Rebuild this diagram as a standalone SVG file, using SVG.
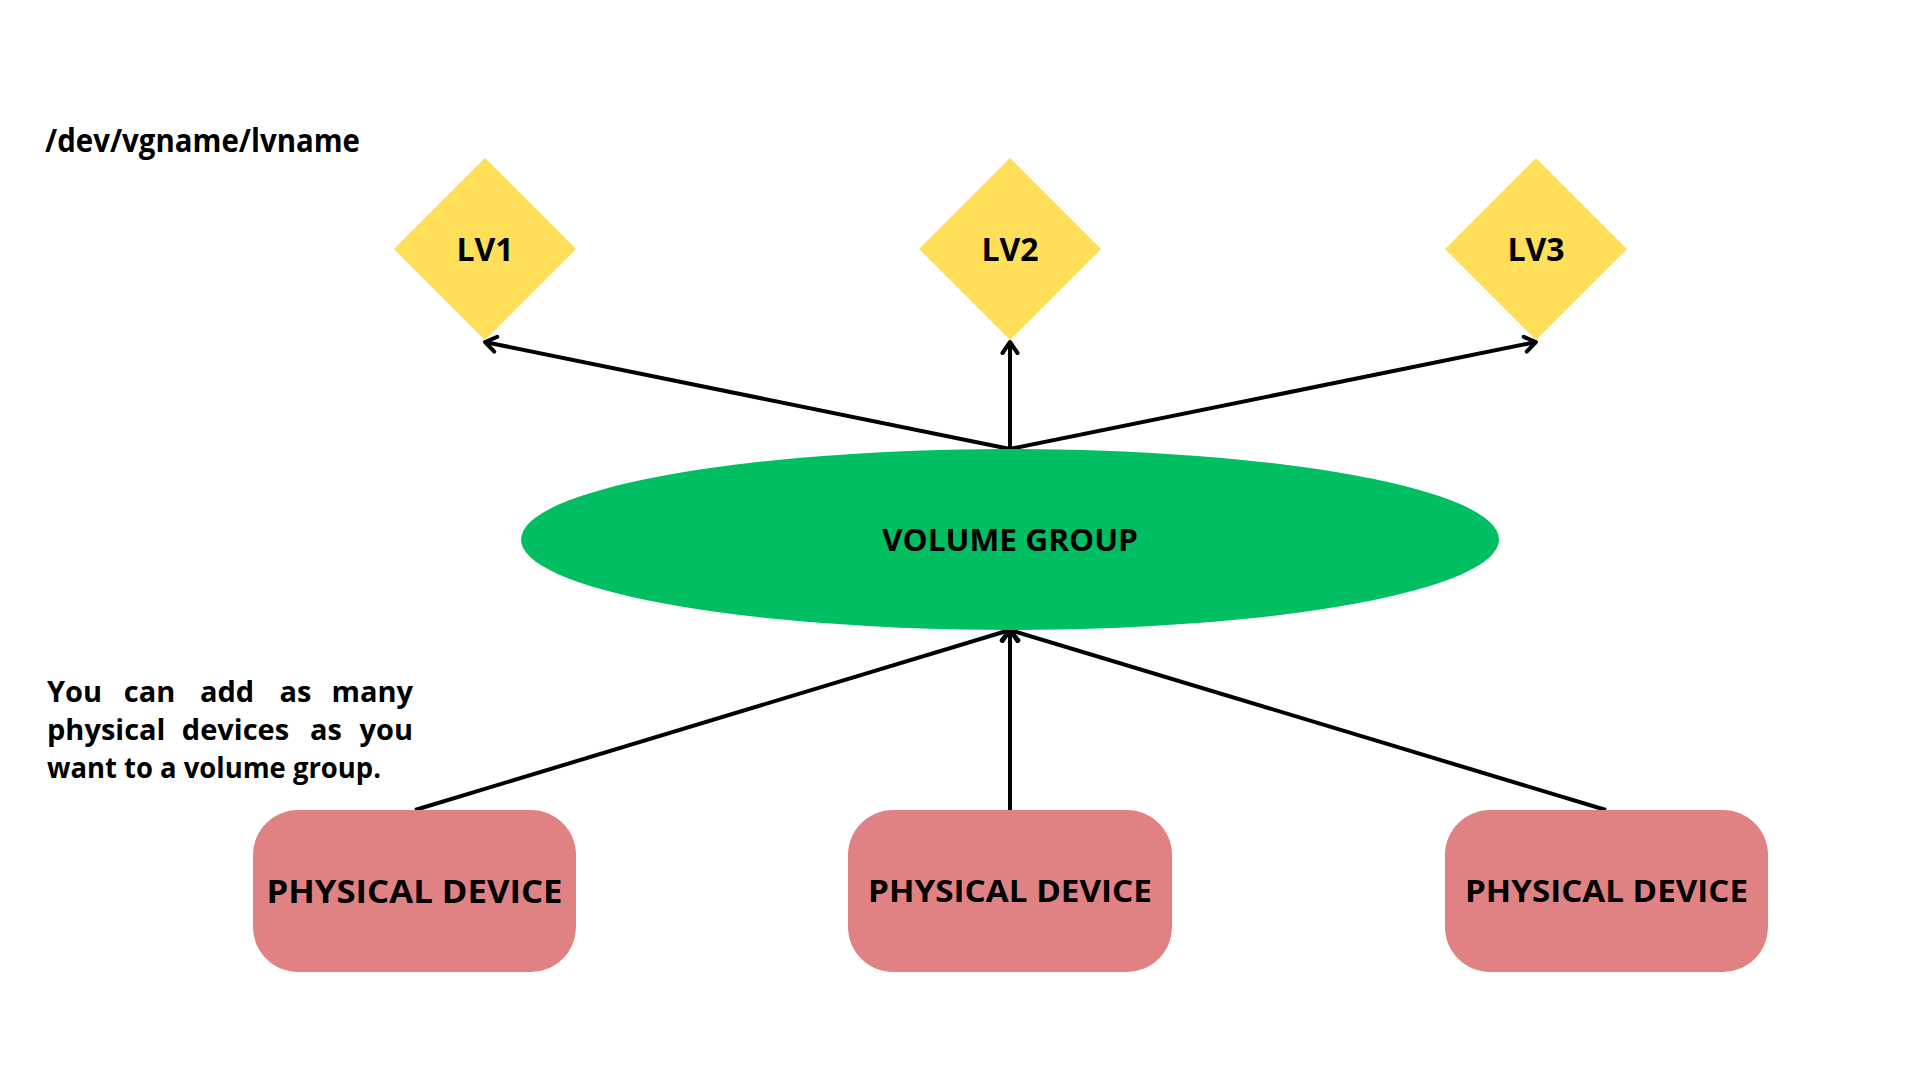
<svg xmlns="http://www.w3.org/2000/svg" width="1920" height="1080" viewBox="0 0 1920 1080">
<defs>
<marker id="arr" viewBox="-14 -10 18 20" markerWidth="18" markerHeight="20" refX="0" refY="0" orient="auto" markerUnits="userSpaceOnUse">
<path d="M-11,-7.5 L0,0 L-11,7.5" fill="none" stroke="#000" stroke-width="4" stroke-linecap="round" stroke-linejoin="round"/>
</marker>
<style>
.t{font-family:"Open Sans","Liberation Sans",sans-serif;font-weight:700;fill:#000}
.lv{fill:#FFDE59}
.pd{fill:#E08283}
.c{stroke:#000;stroke-width:4;fill:none}
</style>
</defs>
<rect width="1920" height="1080" fill="#fff"/>
<text class="t" x="45" y="152" font-size="32" textLength="315" lengthAdjust="spacingAndGlyphs">/dev/vgname/lvname</text>
<g id="paragraph" class="t" font-size="29">
<text x="47" y="702">You</text>
<text x="149.5" y="702" text-anchor="middle">can</text>
<text x="227" y="702" text-anchor="middle">add</text>
<text x="295.5" y="702" text-anchor="middle">as</text>
<text x="413" y="702" text-anchor="end">many</text>
<text x="47" y="740">physical</text>
<text x="235.5" y="740" text-anchor="middle">devices</text>
<text x="326" y="740" text-anchor="middle">as</text>
<text x="413" y="740" text-anchor="end">you</text>
<text x="47" y="778" textLength="334" lengthAdjust="spacingAndGlyphs">want to a volume group.</text>
</g>
<g id="connectors">
<line class="c" x1="1010" y1="449" x2="485" y2="342" marker-end="url(#arr)"/>
<line class="c" x1="1010" y1="449" x2="1010" y2="342" marker-end="url(#arr)"/>
<line class="c" x1="1010" y1="449" x2="1536" y2="342" marker-end="url(#arr)"/>
<line class="c" x1="415" y1="810" x2="1010" y2="630" marker-end="url(#arr)"/>
<line class="c" x1="1010" y1="810" x2="1010" y2="630" marker-end="url(#arr)"/>
<line class="c" x1="1606" y1="810" x2="1010" y2="630" marker-end="url(#arr)"/>
</g>
<g id="lv1">
<polygon class="lv" points="485,158 576,249 485,340 394,249"/>
<text class="t" x="485" y="261" font-size="32" text-anchor="middle">LV1</text>
</g>
<g id="lv2">
<polygon class="lv" points="1010,158 1101,249 1010,340 919,249"/>
<text class="t" x="1010" y="261" font-size="32" text-anchor="middle">LV2</text>
</g>
<g id="lv3">
<polygon class="lv" points="1536,158 1627,249 1536,340 1445,249"/>
<text class="t" x="1536" y="261" font-size="32" text-anchor="middle">LV3</text>
</g>
<g id="vg">
<ellipse cx="1010" cy="539.5" rx="489" ry="90.5" fill="#00BF63"/>
<text class="t" x="1010" y="551" font-size="31" text-anchor="middle" textLength="256" lengthAdjust="spacingAndGlyphs">VOLUME GROUP</text>
</g>
<g id="pd1">
<rect class="pd" x="253" y="810" width="323" height="162" rx="45"/>
<text class="t" x="414.5" y="903" font-size="32" text-anchor="middle" textLength="296" lengthAdjust="spacingAndGlyphs">PHYSICAL DEVICE</text>
</g>
<g id="pd2">
<rect class="pd" x="848" y="810" width="324" height="162" rx="45"/>
<text class="t" x="1010" y="902" font-size="31" text-anchor="middle" textLength="284" lengthAdjust="spacingAndGlyphs">PHYSICAL DEVICE</text>
</g>
<g id="pd3">
<rect class="pd" x="1445" y="810" width="323" height="162" rx="45"/>
<text class="t" x="1606.5" y="902" font-size="31" text-anchor="middle" textLength="283" lengthAdjust="spacingAndGlyphs">PHYSICAL DEVICE</text>
</g>
</svg>
